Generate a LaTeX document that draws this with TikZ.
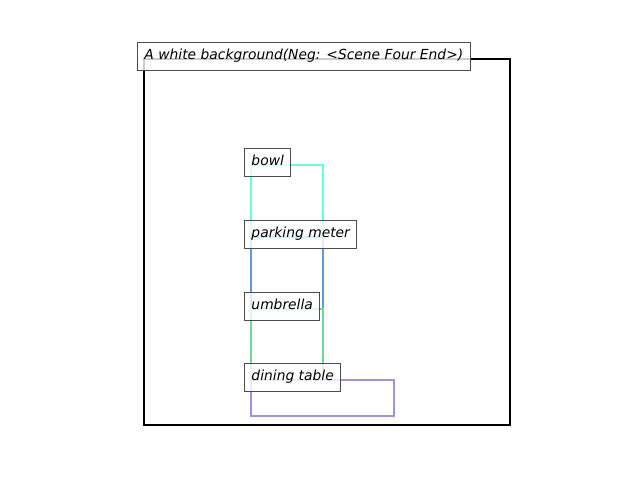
\documentclass[tikz,border=0pt]{standalone}
\usepackage{fontspec}
\setmainfont{DejaVu Sans}
\usepackage{xcolor}
\usetikzlibrary{positioning}

\definecolor{bowlcol}{RGB}{100,255,222}
\definecolor{metercol}{RGB}{100,152,210}
\definecolor{umbrellacol}{RGB}{118,212,150}
\definecolor{tablecol}{RGB}{168,144,216}

\tikzset{
  objbox/.style={draw,line width=1.8pt},
  tag/.style={draw=black!70,fill=white,fill opacity=0.8,text opacity=1,
    line width=0.7pt,inner xsep=5pt,inner ysep=5pt,
    text height=7.2pt,text depth=2.9pt,anchor=base west,
    font=\itshape\fontsize{10pt}{12pt}\selectfont}
}

\begin{document}
\begin{tikzpicture}[x=0.01in,y=-0.01in]

  \useasboundingbox (0,0) rectangle (640,480);

  % Scene
  \node [coordinate] (s1) at (144,59) {};
  \node [coordinate] (s2) at (510,425) {};
  \draw [line width=1.6pt] (s1) rectangle (s2);

  % Bowl
  \node [coordinate] (b1) at (251,165) {};
  \node [coordinate] (b2) at (323,238) {};
  \draw [objbox,bowlcol] (b1) rectangle (b2);

  % Parking meter
  \node [coordinate] (p1) at (251,237) {};
  \node [coordinate] (p2) at (323,309) {};
  \draw [objbox,metercol] (p1) rectangle (p2);

  % Umbrella
  \node [coordinate] (u1) at (251,309) {};
  \node [coordinate] (u2) at (323,380) {};
  \draw [objbox,umbrellacol] (u1) rectangle (u2);

  % Dining table
  \node [coordinate] (d1) at (251,380) {};
  \node [coordinate] (d2) at (394,416) {};
  \draw [objbox,tablecol] (d1) rectangle (d2);

  % Labels
  \node [tag] (st) at ([xshift=-5pt,yshift=-0.5pt]s1) {A white background(Neg: <Scene Four End>)};
  \node [tag] (bt) at ([xshift=-5pt,yshift=-0.5pt]b1) {bowl};
  \node [tag] (pt) at ([xshift=-5pt,yshift=-0.5pt]p1) {parking meter};
  \node [tag] (ut) at ([xshift=-5pt,yshift=-0.5pt]u1) {umbrella};
  \node [tag] (dt) at ([xshift=-5pt,yshift=-0.5pt]d1) {dining table};

\end{tikzpicture}
\end{document}
